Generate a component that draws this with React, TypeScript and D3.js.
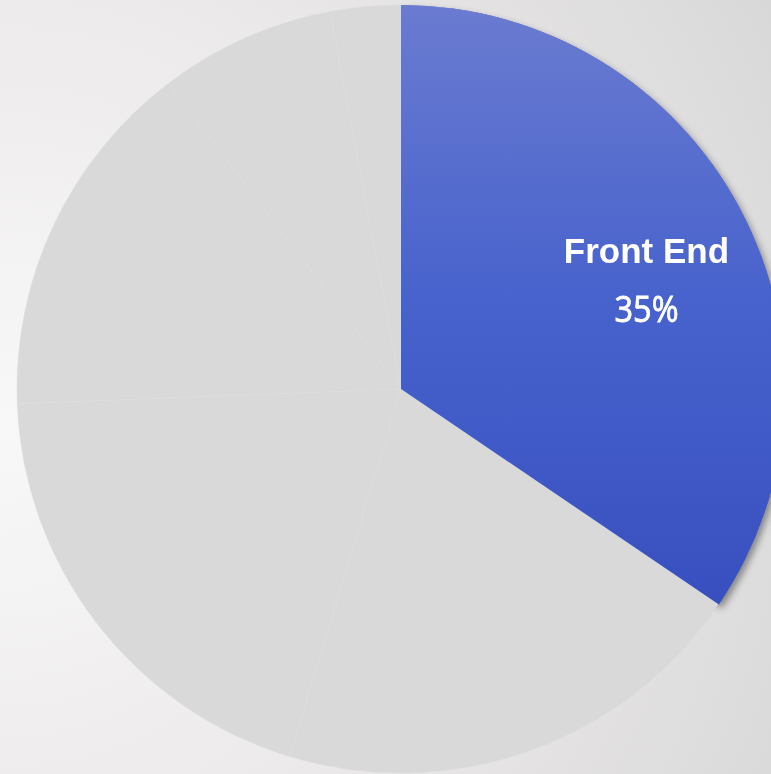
import React from "react";
import * as d3 from "d3";

const categories = ["Front End", "Back End", "Database", "DevOps", "Testing", "Other"];
const values = [35, 20.5, 20, 15.5, 7.5, 3];
const highlighted = "Front End";

const W = 771;
const H = 774;
const CX = 401;
const CY = 389;
const R = 384;

export default function App() {
  const data = categories.map((c, i) => ({ name: c, value: values[i] }));
  const pie = d3.pie<any>().value((d) => d.value).sort(null).startAngle(0).endAngle(2 * Math.PI);
  const arcs = pie(data);
  const arc = d3.arc<any>().innerRadius(0).outerRadius(R);
  const labelArc = d3.arc<any>().innerRadius(R * 0.7).outerRadius(R * 0.7);

  return (
    <svg width={W} height={H} style={{ position: "fixed", left: 0, top: 0, display: "block" }}>
      <defs>
        <radialGradient id="bg" cx="0" cy="0.55" r="1.25" gradientUnits="objectBoundingBox">
          <stop offset="0" stopColor="#f9f8f8" />
          <stop offset="0.45" stopColor="#eceaea" />
          <stop offset="1" stopColor="#d6d5d5" />
        </radialGradient>
        <linearGradient id="blue" x1="0" y1="0" x2="0" y2="1">
          <stop offset="0" stopColor="#6a7bd0" />
          <stop offset="0.5" stopColor="#4762cd" />
          <stop offset="1" stopColor="#3850bf" />
        </linearGradient>
        <filter id="shadow" x="-20%" y="-20%" width="140%" height="140%">
          <feDropShadow dx="3" dy="4" stdDeviation="3.5" floodColor="#000" floodOpacity="0.4" />
        </filter>
        <mask id="outside">
          <rect x={0} y={0} width={W} height={H} fill="white" />
          <circle cx={CX} cy={CY} r={R - 0.5} fill="black" />
        </mask>
      </defs>
      <rect x={0} y={0} width={W} height={H} fill="url(#bg)" />
      <g transform={`translate(${CX},${CY})`}>
        {arcs.map((a, i) =>
          a.data.name === highlighted ? null : (
            <path key={i} d={arc(a) as string} fill="#d9d9d9" stroke="#dedede" strokeWidth={0.6} />
          )
        )}
      </g>
      <g mask="url(#outside)">
        <g transform={`translate(${CX},${CY})`}>
          {arcs.map((a, i) =>
            a.data.name === highlighted ? (
              <path key={i} d={arc(a) as string} fill="#3850bf" filter="url(#shadow)" />
            ) : null
          )}
        </g>
      </g>
      <g transform={`translate(${CX},${CY})`}>
        {arcs.map((a, i) => {
          if (a.data.name !== highlighted) return null;
          const [lx, ly] = labelArc.centroid(a);
          return (
            <g key={i}>
              <path d={arc(a) as string} fill="url(#blue)" />
              <text
                x={lx + 8}
                y={ly}
                textAnchor="middle"
                fill="#ffffff"
                fontFamily="'Liberation Sans', Arial, sans-serif"
                fontWeight="bold"
                fontSize={35}
              >
                {a.data.name}
              </text>
              <text
                x={lx + 8}
                y={ly + 59}
                textAnchor="middle"
                fill="#ffffff"
                stroke="#ffffff"
                strokeWidth={0.8}
                fontFamily="'Open Sans', 'Noto Sans', sans-serif"
                fontSize={36}
                textLength={64}
                lengthAdjust="spacingAndGlyphs"
              >
                {`${a.data.value}%`}
              </text>
            </g>
          );
        })}
      </g>
    </svg>
  );
}
